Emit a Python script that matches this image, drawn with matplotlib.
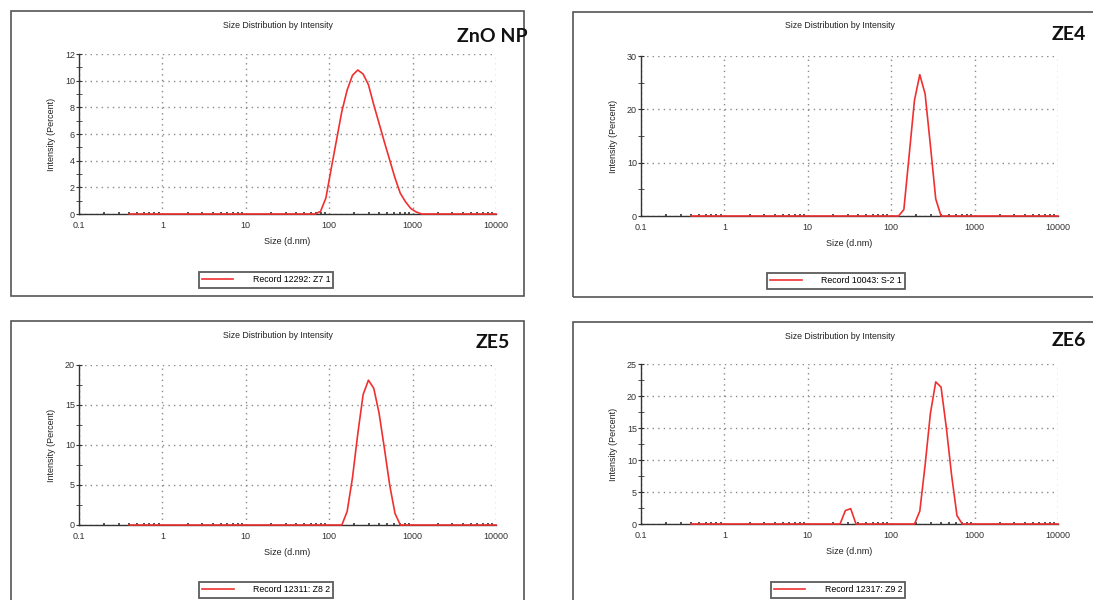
import matplotlib
matplotlib.use("Agg")
import matplotlib.pyplot as plt
from matplotlib.patches import Rectangle
from matplotlib.ticker import FixedLocator, NullFormatter, MultipleLocator

plt.rcParams['font.family'] = ['Liberation Sans', 'DejaVu Sans']

### DATA
zno_size = [0.4, 68.06, 78.82, 91.28, 105.7, 122.4, 141.8, 164.2, 190.1, 220.2, 255.0,
            295.3, 342.0, 396.1, 458.7, 531.2, 615.1, 712.4, 825.0, 955.4, 1106, 1281, 10000]
zno_int = [0, 0, 0.2, 1.2, 3.4, 5.55, 7.7, 9.3, 10.4, 10.8, 10.5,
           9.7, 8.2, 6.8, 5.4, 4.05, 2.7, 1.55, 0.9, 0.4, 0.15, 0, 0]

ze4_size = [0.4, 122.4, 141.8, 164.2, 190.1, 220.2, 255.0, 295.3, 342.0, 396.1, 10000]
ze4_int = [0, 0, 1.2, 11.4, 21.7, 26.5, 22.9, 13.2, 3.2, 0, 0]

ze5_size = [0.4, 141.8, 164.2, 190.1, 220.2, 255.0, 295.3, 342.0, 396.1, 458.7, 531.2,
            615.1, 712.4, 10000]
ze5_int = [0, 0, 1.7, 5.9, 11.4, 16.3, 18.1, 17.1, 14.0, 9.6, 5.0, 1.45, 0, 0]

ze6_size = [0.4, 24.36, 28.21, 32.67, 37.84, 190.1, 220.2, 255.0, 295.3, 342.0, 396.1,
            458.7, 531.2, 615.1, 712.4, 10000]
ze6_int = [0, 0, 2.1, 2.4, 0, 0, 2.0, 9.2, 17.3, 22.2, 21.4, 15.0, 7.5, 1.3, 0, 0]

names = ["ZnO NP", "ZE4", "ZE5", "ZE6"]
records = ["Record 12292: Z7 1", "Record 10043: S-2 1", "Record 12311: Z8 2", "Record 12317: Z9 2"]
sizes = [zno_size, ze4_size, ze5_size, ze6_size]
intens = [zno_int, ze4_int, ze5_int, ze6_int]
ymax = [12, 30, 20, 25]
ystep = [2, 10, 5, 5]
yminor = [1, 5, 2.5, 2.5]

W, H = 1093, 600
fig = plt.figure(figsize=(W / 100, H / 100), dpi=100)

# axes rectangles in pixels: left, right, top (ymax), bottom (0)
ax_px = [(79, 496, 54, 214), (641, 1058, 56, 216), (79, 496, 365, 525), (641, 1058, 364, 524)]
# outer panel frames in pixels
box_px = [(11, 524, 11, 296), (573, 1100, 12, 297), (11, 524, 321, 610), (573, 1100, 322, 610)]
label_px = [(528, 37), (1086, 35), (510, 343), (1086, 341)]
legend_px = [(266, 280), (836, 281), (266, 590), (838, 590)]

for i in range(4):
    bx0, bx1, by0, by1 = box_px[i]
    fig.patches.append(Rectangle((bx0 / W, 1 - by1 / H), (bx1 - bx0) / W, (by1 - by0) / H,
                                 transform=fig.transFigure, fill=False,
                                 edgecolor="#555555", lw=1.2))

    x0, x1, yt, yb = ax_px[i]
    ax = fig.add_axes([x0 / W, 1 - yb / H, (x1 - x0) / W, (yb - yt) / H])
    ax.plot(sizes[i], intens[i], color="#f03030", lw=1.2, clip_on=False, zorder=5,
            label=records[i])
    ax.set_xscale("log")
    ax.set_xlim(0.1, 10000)
    ax.set_ylim(0, ymax[i])
    ax.xaxis.set_major_locator(FixedLocator([0.1, 1, 10, 100, 1000, 10000]))
    ax.set_xticklabels(["0.1", "1", "10", "100", "1000", "10000"])
    ax.xaxis.set_minor_locator(FixedLocator([m * 10.0 ** e for e in range(-1, 4) for m in range(2, 10)]))
    ax.xaxis.set_minor_formatter(NullFormatter())
    ax.yaxis.set_major_locator(MultipleLocator(ystep[i]))
    ax.yaxis.set_minor_locator(MultipleLocator(yminor[i]))
    ax.grid(True, which="major", color="#8a8a8a", linestyle=(0, (1, 3)), lw=1.0)
    ax.spines["top"].set_visible(False)
    ax.spines["right"].set_visible(False)
    for s in ("left", "bottom"):
        ax.spines[s].set_color("#333333")
        ax.spines[s].set_linewidth(1.0)
    ax.tick_params(which="major", axis="y", direction="inout", length=4, labelsize=6.5,
                   pad=1, colors="#333333")
    ax.tick_params(which="minor", axis="y", direction="inout", length=4, colors="#333333")
    ax.tick_params(which="major", axis="x", direction="in", length=0, labelsize=6.5,
                   pad=5, colors="#333333")
    ax.tick_params(which="minor", axis="x", direction="in", length=1.5, width=1.2,
                   colors="#333333")
    ax.set_xlabel("Size (d.nm)", fontsize=6.5, labelpad=5, color="#222222")
    ax.set_ylabel("Intensity (Percent)", fontsize=6.5, labelpad=6, color="#222222")

    fig.text(((x0 + x1) / 2 - 10) / W, 1 - (box_px[i][2] + 14) / H,
             "Size Distribution by Intensity", fontsize=6.3, ha="center", va="center",
             color="#222222")
    lx, ly = label_px[i]
    fig.text(lx / W, 1 - ly / H, names[i], fontsize=14, fontweight="bold",
             family=["Lato", "DejaVu Sans"], ha="right", va="center", color="#111111")

    cx, cy = legend_px[i]
    leg = ax.legend(loc="center", bbox_to_anchor=(cx / W, 1 - cy / H),
                    bbox_transform=fig.transFigure, fontsize=6.3, frameon=True,
                    fancybox=False, handlelength=3.6, handletextpad=2.2,
                    borderpad=0.35, borderaxespad=0)
    leg.get_frame().set_edgecolor("#333333")
    leg.get_frame().set_linewidth(1.3)

fig.savefig("out.png", dpi=100, facecolor="white")
